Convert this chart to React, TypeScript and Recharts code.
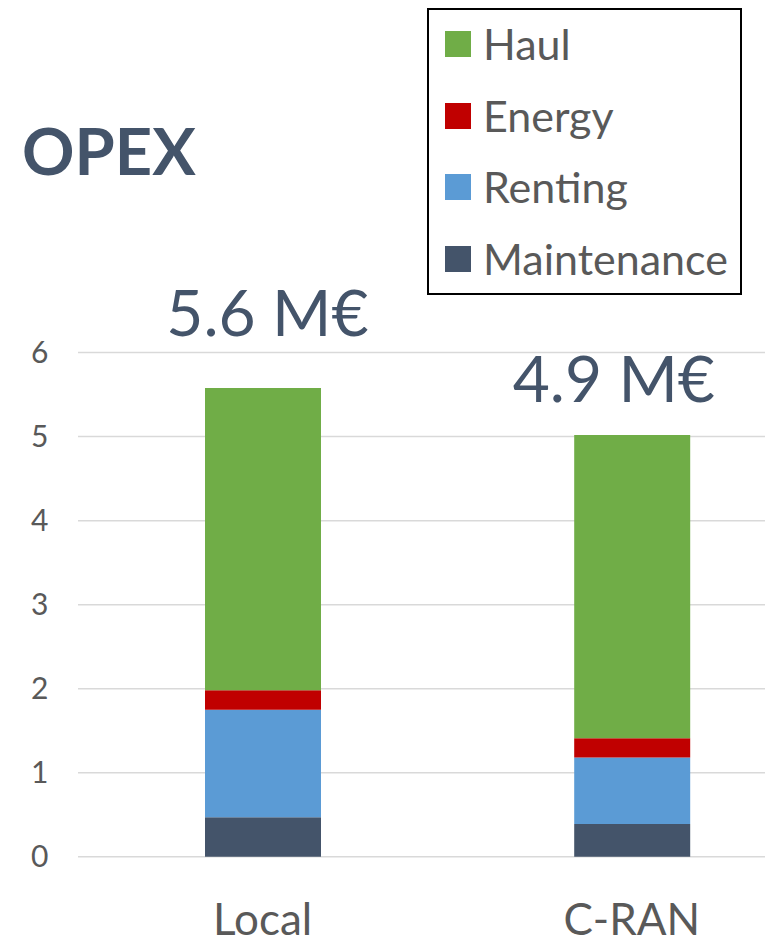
import React from 'react';
import { BarChart, Bar, XAxis, YAxis, CartesianGrid, Legend, LabelList } from 'recharts';

const categories = ['Local', 'C-RAN'];
const maintenance = [0.47, 0.39];
const renting = [1.28, 0.79];
const energy = [0.23, 0.23];
const haul = [3.6, 3.61];
const totalLabels = ['5.6 M€', '4.9 M€'];
const yTicks = [0, 1, 2, 3, 4, 5, 6];
const legendOrder = ['Haul', 'Energy', 'Renting', 'Maintenance'];

const data = categories.map((name, i) => ({
  name,
  maintenance: maintenance[i],
  renting: renting[i],
  energy: energy[i],
  haul: haul[i],
  total: totalLabels[i],
}));

const FONT = 'Lato, "Open Sans", sans-serif';
const labelShift = [
  { dx: 4.5, dy: 52 },
  { dx: -18.4, dy: 33 },
];

const TotalLabel = (props: any) => {
  const { x, y, width, value, index } = props;
  const s = labelShift[index] || { dx: 0, dy: 30 };
  return (
    <text
      x={Number(x) + Number(width) / 2 + s.dx}
      y={Number(y) - s.dy}
      textAnchor="middle"
      fill="#44546A"
      fontSize={64}
      fontFamily={FONT}
    >
      {value}
    </text>
  );
};

const LegendBox = (props: any) => {
  const payload = [...(props.payload || [])].sort(
    (a: any, b: any) => legendOrder.indexOf(a.value) - legendOrder.indexOf(b.value)
  );
  return (
    <div style={{ position: 'relative', width: '100%', height: '100%' }}>
      {payload.map((p: any, i: number) => (
        <div
          key={p.value}
          style={{
            position: 'absolute',
            left: 16,
            top: 33.8 + i * 71.7 - 30,
            height: 60,
            display: 'flex',
            alignItems: 'center',
            whiteSpace: 'nowrap',
          }}
        >
          <div style={{ width: 26, height: 26, background: p.color }} />
          <span
            style={{
              marginLeft: 12,
              fontFamily: FONT,
              fontSize: 43,
              color: '#595959',
              lineHeight: 1.2,
            }}
          >
            {p.value}
          </span>
        </div>
      ))}
    </div>
  );
};

export default function App() {
  return (
    <div
      style={{
        position: 'absolute',
        left: 0,
        top: 0,
        width: 765,
        height: 943,
        overflow: 'hidden',
        background: '#ffffff',
      }}
    >
      <BarChart
        width={830}
        height={943}
        data={data}
        margin={{ top: 352.6, right: 13.6, left: 0, bottom: 6.3 }}
        barSize={116}
      >
        <CartesianGrid vertical={false} stroke="#d9d9d9" strokeWidth={1.5} />
        <XAxis
          dataKey="name"
          height={80}
          axisLine={false}
          tickLine={false}
          tickSize={0}
          tickMargin={47}
          tick={{ fill: '#595959', fontSize: 44, fontFamily: FONT }}
        />
        <YAxis
          domain={[0, 6]}
          ticks={yTicks}
          width={78}
          axisLine={false}
          tickLine={false}
          tickSize={0}
          tickMargin={29.5}
          tick={{ fill: '#595959', fontSize: 30, fontFamily: FONT }}
        />
        <Bar dataKey="maintenance" name="Maintenance" stackId="a" fill="#44546A" legendType="square" isAnimationActive={false} />
        <Bar dataKey="renting" name="Renting" stackId="a" fill="#5B9BD5" legendType="square" isAnimationActive={false} />
        <Bar dataKey="energy" name="Energy" stackId="a" fill="#C00000" legendType="square" isAnimationActive={false} />
        <Bar dataKey="haul" name="Haul" stackId="a" fill="#70AD47" legendType="square" isAnimationActive={false}>
          <LabelList dataKey="total" content={TotalLabel} />
        </Bar>
        <Legend
          layout="vertical"
          align="center"
          verticalAlign="middle"
          content={LegendBox}
          wrapperStyle={{
            left: 427,
            top: 8,
            width: 315,
            height: 287,
            border: '2px solid #000',
            boxSizing: 'border-box',
            background: '#fff',
          }}
        />
        <text x={22} y={175} fill="#44546A" fontSize={65} fontWeight={700} fontFamily={FONT}>
          OPEX
        </text>
      </BarChart>
    </div>
  );
}
